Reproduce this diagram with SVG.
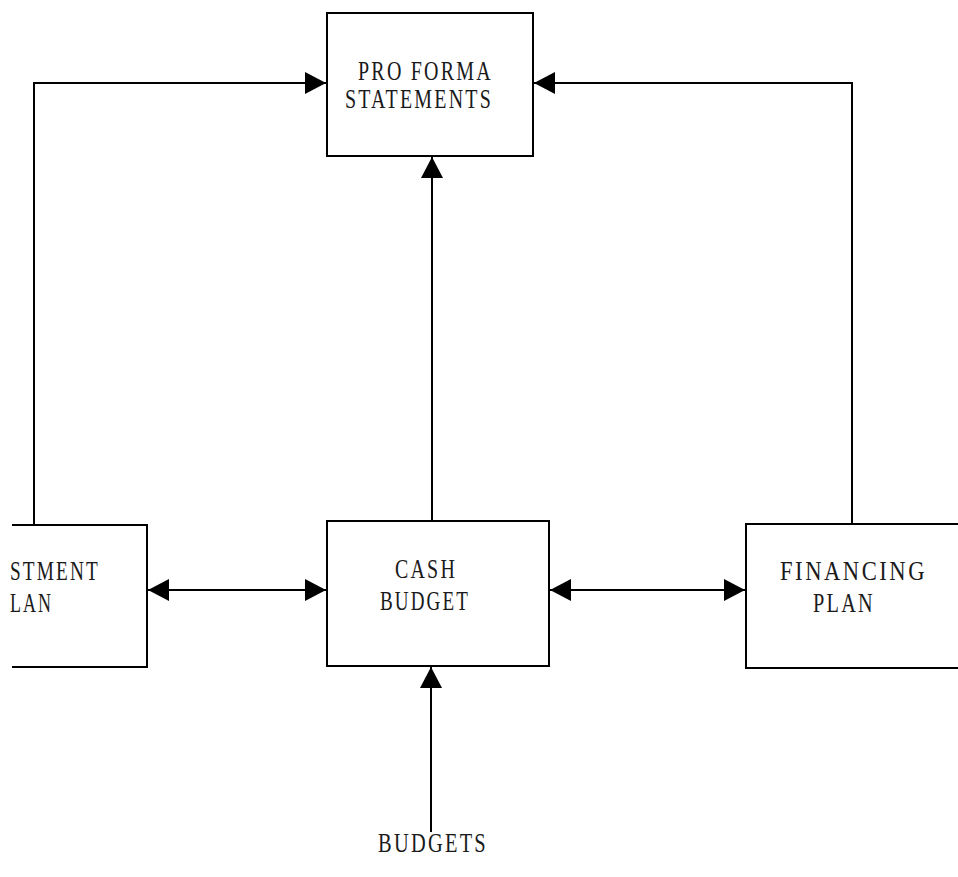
<svg xmlns="http://www.w3.org/2000/svg" width="958" height="877" viewBox="0 0 958 877">
<style>
.box{fill:#fff;stroke:#000;stroke-width:2}
.ln{fill:none;stroke:#000;stroke-width:2}
.t{font-family:"Liberation Serif","DejaVu Serif",serif;font-size:27px;letter-spacing:3px;fill:#1a1a1a}
</style>
<defs>
<marker id="ah" markerUnits="userSpaceOnUse" markerWidth="22" markerHeight="24" viewBox="0 0 22 24" refX="21" refY="12" orient="auto-start-reverse">
<path d="M0,1 L21,12 L0,23 Z" fill="#000"/>
</marker>
</defs>
<rect width="958" height="877" fill="#fff"/>
<g id="connectors">
<path class="ln" d="M34,524 V83 H326" marker-end="url(#ah)"/>
<path class="ln" d="M852,523 V83 H534" marker-end="url(#ah)"/>
<path class="ln" d="M432,520 V157" marker-end="url(#ah)"/>
<path class="ln" d="M431,832 V667" marker-end="url(#ah)"/>
<path class="ln" d="M148,590 H326" marker-start="url(#ah)" marker-end="url(#ah)"/>
<path class="ln" d="M550,590 H745" marker-start="url(#ah)" marker-end="url(#ah)"/>
</g>
<g id="proforma">
<rect class="box" x="327" y="13" width="206" height="143"/>
<text class="t" x="358" y="80" textLength="135" lengthAdjust="spacingAndGlyphs">PRO FORMA</text>
<text class="t" x="345" y="108" textLength="148" lengthAdjust="spacingAndGlyphs">STATEMENTS</text>
</g>
<g id="investment">
<path class="box" d="M12,525 H147 V667 H12" style="fill:none"/>
<text class="t" x="10" y="580" textLength="90" lengthAdjust="spacingAndGlyphs">STMENT</text>
<text class="t" x="10" y="612" textLength="43" lengthAdjust="spacingAndGlyphs">LAN</text>
</g>
<g id="cash">
<rect class="box" x="327" y="521" width="222" height="145"/>
<text class="t" x="395" y="578" textLength="62" lengthAdjust="spacingAndGlyphs">CASH</text>
<text class="t" x="380" y="610" textLength="90" lengthAdjust="spacingAndGlyphs">BUDGET</text>
</g>
<g id="financing">
<path class="box" d="M960,524 H746 V668 H960" style="fill:none"/>
<text class="t" x="780" y="580" textLength="147" lengthAdjust="spacingAndGlyphs">FINANCING</text>
<text class="t" x="813" y="612" textLength="62" lengthAdjust="spacingAndGlyphs">PLAN</text>
</g>
<g id="budgets">
<text class="t" x="378" y="852" textLength="110" lengthAdjust="spacingAndGlyphs">BUDGETS</text>
</g>
</svg>
